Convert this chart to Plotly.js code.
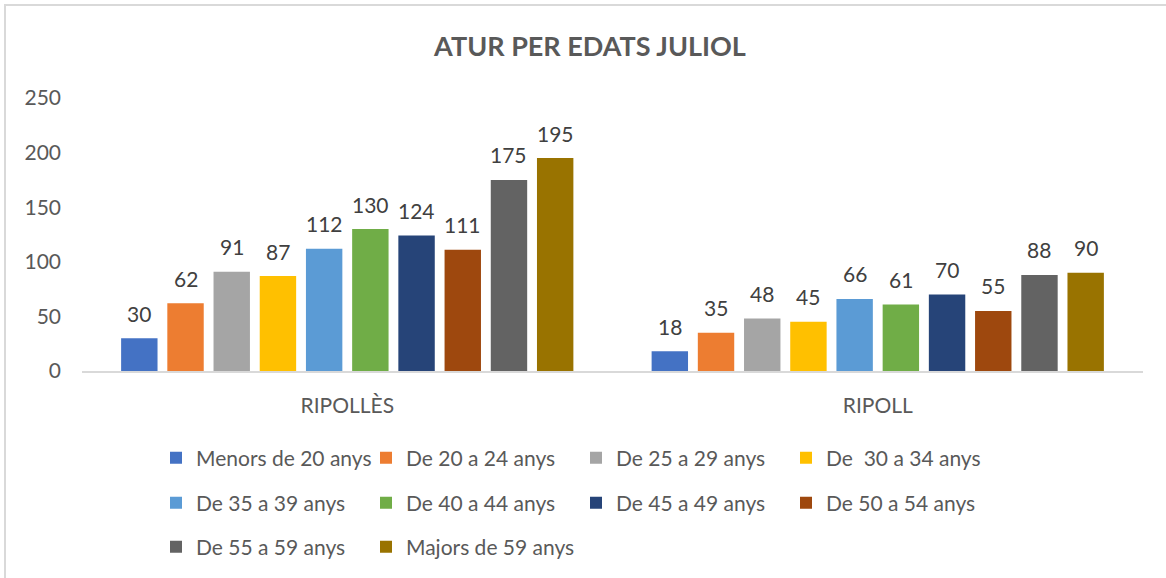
<!DOCTYPE html>
<html>
<head>
<meta charset="utf-8">
<script src="https://cdn.plot.ly/plotly-3.0.1.min.js"></script>
<style>
html,body{margin:0;padding:0;background:#fff;}
#wrap{position:relative;width:1166px;height:578px;}
#chart{width:1166px;height:578px;}
#frame{position:absolute;left:4px;top:4px;right:0;bottom:0;border-top:2px solid #D9D9D9;border-left:2px solid #D9D9D9;pointer-events:none;}
</style>
</head>
<body>
<div id="wrap"><div id="chart"></div><div id="frame"></div></div>
<script>
const categories = ['RIPOLLÈS', 'RIPOLL'];
const seriesNames = ['Menors de 20 anys', 'De 20 a 24 anys', 'De 25 a 29 anys', 'De  30 a 34 anys',
  'De 35 a 39 anys', 'De 40 a 44 anys', 'De 45 a 49 anys', 'De 50 a 54 anys',
  'De 55 a 59 anys', 'Majors de 59 anys'];
const menors20 = [30, 18];
const de20a24 = [62, 35];
const de25a29 = [91, 48];
const de30a34 = [87, 45];
const de35a39 = [112, 66];
const de40a44 = [130, 61];
const de45a49 = [124, 70];
const de50a54 = [111, 55];
const de55a59 = [175, 88];
const majors59 = [195, 90];
const seriesValues = [menors20, de20a24, de25a29, de30a34, de35a39, de40a44, de45a49, de50a54, de55a59, majors59];
const colors = ['#4472C4', '#ED7D31', '#A5A5A5', '#FFC000', '#5B9BD5', '#70AD47', '#264478', '#9E480E', '#636363', '#997300'];
const yTicks = [0, 50, 100, 150, 200, 250];

const FONT = 'Lato, "Open Sans", sans-serif';
const W = 1166, H = 578;
const margin = {l: 82, r: 23, t: 98, b: 206, pad: 0};
const bargap = 0.129, bargroupgap = 0.212;
const plotW = W - margin.l - margin.r;
const pitch = plotW / categories.length * (1 - bargap) / seriesNames.length;
const legendFor = i => (i < 4 ? 'legend' : (i < 8 ? 'legend2' : 'legend3'));

const traces = seriesNames.map((name, i) => ({
  type: 'bar',
  name: name,
  x: categories,
  y: seriesValues[i],
  marker: {color: colors[i]},
  legend: legendFor(i),
  hoverinfo: 'x+y+name'
}));

const annotations = [];
seriesValues.forEach((vals, i) => {
  vals.forEach((v, j) => {
    annotations.push({
      x: categories[j], y: v, xref: 'x', yref: 'y',
      text: String(v), showarrow: false,
      xshift: (i - (seriesNames.length - 1) / 2) * pitch,
      yanchor: 'middle', yshift: 25,
      font: {family: FONT, size: 21, color: '#404040'}
    });
  });
});

const plotH = H - margin.t - margin.b;
const rowY = px => (H - margin.b - px) / plotH;
const legendBase = {
  orientation: 'h', xanchor: 'left', yanchor: 'middle',
  x: (156 - margin.l) / plotW,
  entrywidth: 165, entrywidthmode: 'pixels',
  font: {family: FONT, size: 21, color: '#595959'},
  bgcolor: 'rgba(0,0,0,0)', borderwidth: 0, traceorder: 'normal'
};

const layout = {
  width: W, height: H,
  margin: margin,
  paper_bgcolor: '#ffffff', plot_bgcolor: '#ffffff',
  title: {text: '<b>ATUR PER EDATS JULIOL</b>', x: 590 / W, xanchor: 'center', xref: 'container',
    y: 1 - 47 / H, yanchor: 'middle', yref: 'container',
    font: {family: FONT, size: 27, color: '#595959'}},
  barmode: 'group', bargap: bargap, bargroupgap: bargroupgap,
  xaxis: {type: 'category', showline: true, linecolor: '#D9D9D9', linewidth: 1.5,
    showgrid: false, zeroline: false, ticks: '', ticklabelstandoff: 15,
    tickfont: {family: FONT, size: 21, color: '#595959'}},
  yaxis: {range: [0, 250], tickvals: yTicks, showgrid: false, zeroline: false, showline: false,
    ticks: '', ticklabelstandoff: 20,
    tickfont: {family: FONT, size: 21, color: '#595959'}},
  legend: Object.assign({}, legendBase, {y: rowY(458)}),
  legend2: Object.assign({}, legendBase, {y: rowY(503)}),
  legend3: Object.assign({}, legendBase, {y: rowY(547)}),
  annotations: annotations,
  showlegend: true
};

Plotly.newPlot('chart', traces, layout, {displayModeBar: false, responsive: false});
</script>
</body>
</html>
